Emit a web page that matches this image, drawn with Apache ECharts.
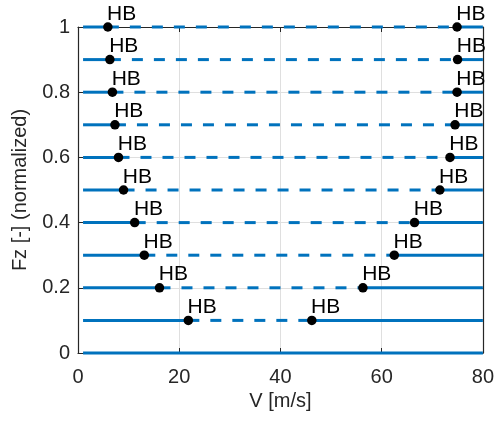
<!DOCTYPE html>
<html>
<head>
<meta charset="utf-8">
<script src="https://cdn.jsdelivr.net/npm/echarts@6/dist/echarts.min.js"></script>
<style>html,body{margin:0;padding:0;background:#fff}#c{width:497px;height:422px}</style>
</head>
<body>
<div id="c"></div>
<script>
const fzLevels = [0.1, 0.2, 0.3, 0.4, 0.5, 0.6, 0.7, 0.8, 0.9, 1.0];
const hbLeft  = [21.8, 16.1, 13.1, 11.2, 9.0, 8.0, 7.3, 6.8, 6.3, 5.9];
const hbRight = [46.2, 56.3, 62.5, 66.5, 71.5, 73.5, 74.5, 74.9, 75.0, 74.9];
const vStart = 1;
const vEnd = 80;
const xTicks = [0, 20, 40, 60, 80];
const yTicks = [0, 0.2, 0.4, 0.6, 0.8, 1];
const hbLabel = 'HB';

const BLUE = '#0072BD';
const FONT = '"Liberation Sans", Arial, sans-serif';
const TXT = '#262626';

const series = [];
series.push({
  type: 'line', data: [[vStart, 0], [vEnd, 0]], symbol: 'none', clip: false,
  lineStyle: { color: BLUE, width: 3, type: 'solid' }, z: 3, silent: true
});
fzLevels.forEach((fz, i) => {
  const segs = [
    { d: [[vStart, fz], [hbLeft[i], fz]], t: 'solid' },
    { d: [[hbLeft[i], fz], [hbRight[i], fz]], t: [11, 11] },
    { d: [[hbRight[i], fz], [vEnd, fz]], t: 'solid' }
  ];
  segs.forEach(s => series.push({
    type: 'line', data: s.d, symbol: 'none', clip: false,
    lineStyle: { color: BLUE, width: 3, type: s.t }, z: 3, silent: true
  }));
});
const hbPts = [];
fzLevels.forEach((fz, i) => { hbPts.push([hbLeft[i], fz]); hbPts.push([hbRight[i], fz]); });
series.push({
  type: 'scatter', data: hbPts, symbol: 'circle', symbolSize: 9.5, clip: false,
  itemStyle: { color: '#000', opacity: 1 }, z: 5, silent: true,
  label: {
    show: true, formatter: hbLabel, position: [4, 2], align: 'left', verticalAlign: 'bottom',
    color: '#000', opacity: 1, fontFamily: FONT, fontSize: 21
  }
});

const chart = echarts.init(document.getElementById('c'), null, { renderer: 'canvas' });
chart.setOption({
  animation: false,
  backgroundColor: '#fff',
  grid: { left: 78, right: 11, top: 27, bottom: 69, containLabel: false },
  xAxis: [{
    type: 'value', min: 0, max: 80, interval: 20, position: 'bottom',
    name: 'V [m/s]', nameLocation: 'middle', nameGap: 35,
    nameTextStyle: { color: TXT, fontFamily: FONT, fontSize: 20 },
    axisLine: { show: true, onZero: false, lineStyle: { color: '#262626', width: 1.2 } },
    axisTick: { show: true, inside: true, length: 5, lineStyle: { color: '#262626' } },
    axisLabel: { color: TXT, fontFamily: FONT, fontSize: 20, margin: 14 },
    splitLine: { show: true, lineStyle: { color: '#dfdfdf', width: 1 } }
  }, {
    type: 'value', min: 0, max: 80, interval: 20, position: 'top',
    axisLine: { show: true, onZero: false, lineStyle: { color: '#262626', width: 1.2 } },
    axisTick: { show: true, inside: true, length: 5, lineStyle: { color: '#262626' } },
    axisLabel: { show: false }, splitLine: { show: false }
  }],
  yAxis: [{
    type: 'value', min: 0, max: 1, interval: 0.2, position: 'left',
    name: 'Fz [-] (normalized)', nameLocation: 'middle', nameGap: 48, nameRotate: 90,
    nameTextStyle: { color: TXT, fontFamily: FONT, fontSize: 20 },
    axisLine: { show: true, onZero: false, lineStyle: { color: '#262626', width: 1.2 } },
    axisTick: { show: true, inside: true, length: 5, lineStyle: { color: '#262626' } },
    axisLabel: { color: TXT, fontFamily: FONT, fontSize: 20, margin: 8,
      formatter: v => String(Math.round(v * 10) / 10) },
    splitLine: { show: true, lineStyle: { color: '#dfdfdf', width: 1 } }
  }, {
    type: 'value', min: 0, max: 1, interval: 0.2, position: 'right',
    axisLine: { show: true, onZero: false, lineStyle: { color: '#262626', width: 1.2 } },
    axisTick: { show: true, inside: true, length: 5, lineStyle: { color: '#262626' } },
    axisLabel: { show: false }, splitLine: { show: false }
  }],
  series: series
});
</script>
</body>
</html>
